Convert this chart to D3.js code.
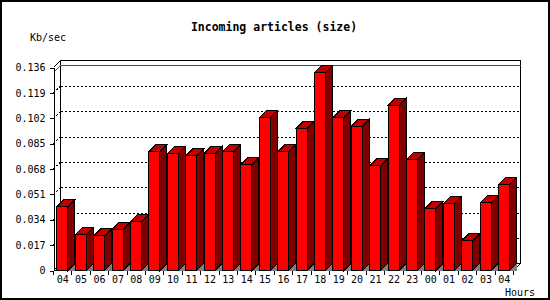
<!DOCTYPE html>
<html>
<head>
<meta charset="utf-8">
<script src="https://cdn.jsdelivr.net/npm/d3@7"></script>
<style>
  body { margin: 0; background: #fff; }
  svg { shape-rendering: crispEdges; }
  text { font-family: "DejaVu Sans Mono", "Liberation Mono", monospace; }
</style>
</head>
<body>
<div id="chart"></div>
<script>
// hours of the day (the last one wraps back to 04)
const hours = ['04','05','06','07','08','09','10','11','12','13','14','15','16','17','18','19','20','21','22','23','00','01','02','03','04'];
// incoming article volume in Kb/sec
const kbps = [0.0430, 0.0240, 0.0233, 0.0275, 0.0329, 0.0797, 0.0784, 0.0770, 0.0784, 0.0797,
              0.0710, 0.1026, 0.0797, 0.0952, 0.1328, 0.1026, 0.0967, 0.0703, 0.1106, 0.0743,
              0.0414, 0.0448, 0.0199, 0.0455, 0.0576];
const yTicks = [0, 0.017, 0.034, 0.051, 0.068, 0.085, 0.102, 0.119, 0.136];
const yTickLabels = ['0','0.017','0.034','0.051','0.068','0.085','0.102','0.119','0.136'];

const width = 550, height = 300;
const depth = 7; // 3d offset of the back wall

const svg = d3.select('#chart').append('svg')
  .attr('width', width)
  .attr('height', height);

// outer frame
svg.append('rect')
  .attr('x', 1).attr('y', 1)
  .attr('width', 547.5).attr('height', 297.5)
  .attr('fill', '#fff')
  .attr('stroke', '#000')
  .attr('stroke-width', 2);

const x = d3.scaleBand()
  .domain(d3.range(hours.length))
  .range([53.5, 513.5]);

const y = d3.scaleLinear()
  .domain([0, yTicks[yTicks.length - 1]])
  .range([270.5, 67.5]);

const x0 = x.range()[0], x1 = x.range()[1];
const yTop = y(yTicks[yTicks.length - 1]), yBot = y(0);

// back wall
svg.append('rect')
  .attr('x', x0 + depth).attr('y', yTop - depth)
  .attr('width', x1 - x0).attr('height', yBot - yTop)
  .attr('fill', '#fff')
  .attr('stroke', '#000');

// dotted grid on back wall + on the left side
const grid = yTicks.slice(1, -1);
svg.selectAll('.grid')
  .data(grid)
  .enter()
  .append('line')
  .attr('x1', x0 + depth).attr('x2', x1 + depth)
  .attr('y1', d => Math.round(y(d) - depth) + 0.5).attr('y2', d => Math.round(y(d) - depth) + 0.5)
  .attr('stroke', '#000')
  .attr('stroke-dasharray', '2,2');

svg.selectAll('.gridSide')
  .data(grid)
  .enter()
  .append('line')
  .attr('x1', x0).attr('x2', x0 + depth)
  .attr('y1', d => y(d)).attr('y2', d => y(d) - depth)
  .attr('stroke', '#000')
  .attr('stroke-dasharray', '2,2');

// top-left and floor edges
const edges = [
  [x0, yTop, x0 + depth, yTop - depth],
  [x0, yBot, x1, yBot],
  [x1, yBot, x1 + depth, yBot - depth],
  [x0, yBot, x0 + depth, yBot - depth]
];
svg.selectAll('.edge')
  .data(edges)
  .enter()
  .append('line')
  .attr('x1', d => d[0]).attr('y1', d => d[1])
  .attr('x2', d => d[2]).attr('y2', d => d[3])
  .attr('stroke', '#000');

// red line at the max value
const maxV = d3.max(kbps);
const yMax = Math.round(y(maxV)) + 0.5;
svg.append('path')
  .attr('d', `M${x0},${yMax}L${x0 + depth},${yMax - depth}H${x1 + depth}`)
  .attr('fill', 'none')
  .attr('stroke', '#f00');

// y axis (front)
svg.append('g')
  .attr('transform', `translate(${x0},0)`)
  .call(d3.axisLeft(y)
    .tickValues(yTicks)
    .tickFormat((d, i) => yTickLabels[i])
    .tickSize(4)
    .tickSizeOuter(0)
    .tickPadding(4))
  .call(g => g.selectAll('text').attr('font-size', 10).attr('fill', '#000').attr('font-family', null))
  .call(g => g.selectAll('line, path').attr('stroke', '#000'));

// bars
const bw = Math.round(x.bandwidth() * 0.6);
const off = x.bandwidth() * 0.19;

const bars = svg.selectAll('.bar')
  .data(kbps)
  .enter()
  .append('g')
  .attr('class', 'bar');

bars.append('path') // floor shadow
  .attr('d', (d, i) => {
    const bx = x(i) + off + bw;
    return `M${bx},${yBot}L${bx + depth},${yBot - depth}V${yBot}Z`;
  })
  .attr('fill', '#808080');

bars.append('path') // side
  .attr('d', (d, i) => {
    const bx = x(i) + off + bw;
    return `M${bx},${y(d)}L${bx + depth},${y(d) - depth}V${yBot - depth}L${bx},${yBot}Z`;
  })
  .attr('fill', '#800000')
  .attr('stroke', '#000');

bars.append('path') // top
  .attr('d', (d, i) => {
    const bx = x(i) + off;
    return `M${bx},${y(d)}L${bx + depth},${y(d) - depth}H${bx + bw + depth}L${bx + bw},${y(d)}Z`;
  })
  .attr('fill', '#c00000')
  .attr('stroke', '#000');

bars.append('rect') // front
  .attr('x', (d, i) => x(i) + off)
  .attr('y', d => y(d))
  .attr('width', bw)
  .attr('height', d => yBot - y(d))
  .attr('fill', '#ff0000')
  .attr('stroke', '#000');

// x ticks at band edges
const edgesX = d3.range(hours.length + 1).map(i => i < hours.length ? x(i) : x1);
svg.selectAll('.xtick')
  .data(edgesX)
  .enter()
  .append('line')
  .attr('x1', d => d).attr('x2', d => d)
  .attr('y1', yBot).attr('y2', yBot + 4)
  .attr('stroke', '#000');

// x labels
svg.append('g')
  .attr('transform', `translate(0,${yBot})`)
  .call(d3.axisBottom(x)
    .tickFormat(i => hours[i])
    .tickSize(0)
    .tickPadding(5))
  .call(g => g.select('.domain').remove())
  .call(g => g.selectAll('text').attr('font-size', 10).attr('fill', '#000').attr('font-family', null));

// titles
svg.append('text')
  .attr('x', 274).attr('y', 31)
  .attr('text-anchor', 'middle')
  .attr('font-size', 11.5)
  .attr('font-weight', 'bold')
  .text('Incoming articles (size)');

svg.append('text')
  .attr('x', 30).attr('y', 41)
  .attr('font-size', 10)
  .text('Kb/sec');

svg.append('text')
  .attr('x', 505).attr('y', 296)
  .attr('font-size', 10)
  .text('Hours');
</script>
</body>
</html>
